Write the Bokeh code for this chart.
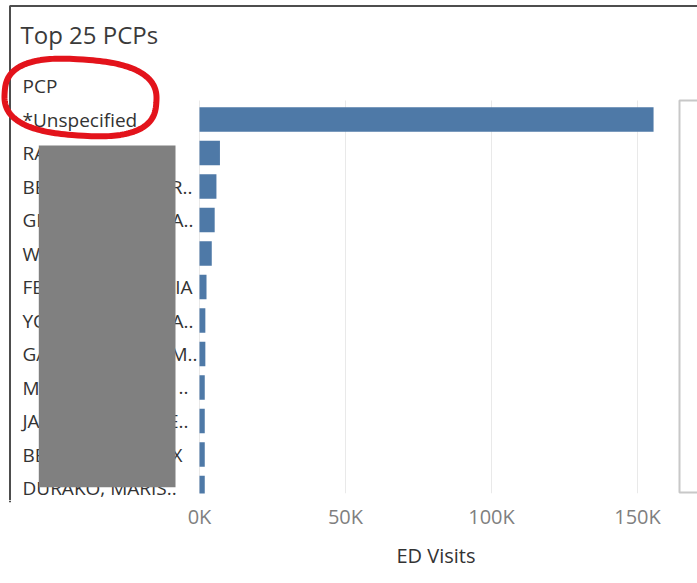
import numpy as np
from bokeh.plotting import figure
from bokeh.layouts import column, row
from bokeh.models import Range1d, FixedTicker
from bokeh.core.properties import value
from bokeh.embed import file_html
from bokeh.resources import INLINE

# ---- chart content ----
title_text = "Top 25 PCPs"
row_header = "PCP"
axis_title = "ED Visits"

# visible start of each PCP name (middle of the names is redacted)
pcp_head = ["*Unspecified", "RA", "BE", "GI", "W", "FE", "YO", "GA", "M", "JA", "BE",
            "DURAKO, MARIS.."]
# visible end of each PCP name, right of the redaction box
pcp_tail = ["", "", "R..", "A..", "", "IA", "A..", "M..", "..", "E..", "X", ""]

ed_visits = [155500, 7000, 5800, 5200, 4200, 2400, 2000, 2000, 1800, 1800, 1800, 1800]

tick_values = [0, 50000, 100000, 150000]
tick_labels = ["0K", "50K", "100K", "150K"]

# ---- layout (pixels) ----
W = 697
TOP_H = 500          # canvas height of the upper part
PANE_BOTTOM = 493    # bars are cut off at the bottom of the scrolling pane
BOTTOM_H = 83
ZERO_PX = 199
PX_PER_VISIT = 146 / 50000
ROW0_PX = 119
ROW_PX = 33.5
PANE_TOP = 100
AXIS_LEFT = 174
LABEL_X = 22
tail_end_px = [0, 0, 192, 193, 0, 192, 193, 197, 188, 188, 182, 0]

FONT = value("Open Sans")
BAR = "#4e79a7"
INK = "#333333"
FRAME_INK = "#4d4d4d"

x_start = -ZERO_PX / PX_PER_VISIT
x_end = (W - ZERO_PX) / PX_PER_VISIT
rows = list(range(len(pcp_head)))


def bare(fig):
    fig.outline_line_color = None
    fig.background_fill_color = "white"
    fig.border_fill_color = "white"
    fig.grid.visible = False


# ---- main pane: labels and bars ----
top = figure(width=W, height=TOP_H, output_backend="svg", toolbar_location=None,
             x_axis_location=None, y_axis_location=None, min_border=0,
             x_range=Range1d(x_start, x_end),
             y_range=Range1d((TOP_H - ROW0_PX) / ROW_PX, -ROW0_PX / ROW_PX))
bare(top)
top.extra_x_ranges = {"px": Range1d(0, W)}
top.extra_y_ranges = {"px": Range1d(TOP_H, 0)}

# vertical gridlines
top.segment(x0=tick_values, y0=PANE_TOP, x1=tick_values, y1=PANE_BOTTOM, y_range_name="px",
            line_color="#e9e9e9", line_width=1)

# bars
top.hbar(y=rows, left=0, right=ed_visits, height=0.725, fill_color=BAR, line_color=None)

# bottom edge of the scrolling pane hides the rest of the last bar
top.quad(left=190, right=W, top=PANE_BOTTOM, bottom=TOP_H, x_range_name="px",
         y_range_name="px", fill_color="white", line_color=None)

# worksheet border
top.line(x=[9.5, 9.5, W], y=[TOP_H, 5.5, 5.5], x_range_name="px", y_range_name="px",
         line_color=FRAME_INK, line_width=2)

# title
top.text(x=[20], y=[34], text=[title_text], x_range_name="px", y_range_name="px",
         text_font=FONT, text_font_size="24px", text_color="#3a3a3a",
         text_baseline="middle", text_align="left")

# row header and row labels
top.text(x=[LABEL_X], y=[-1], text=[row_header], x_range_name="px",
         text_font=FONT, text_font_size="19px", text_color=INK,
         text_baseline="middle", text_align="left")
top.text(x=LABEL_X, y=rows, text=pcp_head, x_range_name="px",
         text_font=FONT, text_font_size="19px", text_color=INK,
         text_baseline="middle", text_align="left")
t_rows = [r for r in rows if pcp_tail[r]]
top.text(x=[tail_end_px[r] for r in t_rows], y=t_rows, text=[pcp_tail[r] for r in t_rows],
         x_range_name="px", text_font=FONT, text_font_size="19px", text_color=INK,
         text_baseline="middle", text_align="right")

# redaction box over the names
top.quad(left=38.3, right=175, top=145, bottom=486.7, x_range_name="px", y_range_name="px",
         fill_color="#808080", line_color=None)

# hand-drawn red loop around the header (squarish, slightly tilted)
t = np.linspace(0, 2 * np.pi, 181)
n = 2.6
ux = np.sign(np.cos(t)) * np.abs(np.cos(t)) ** (2 / n) * 76
uy = np.sign(np.sin(t)) * np.abs(np.sin(t)) ** (2 / n) * 38
tilt = np.radians(4)
loop_x = 80 + ux * np.cos(tilt) - uy * np.sin(tilt)
loop_y = 97 + ux * np.sin(tilt) + uy * np.cos(tilt)
top.line(x=loop_x, y=loop_y, x_range_name="px", y_range_name="px",
         line_color="#e3131b", line_width=6, line_join="round")

# empty legend card at the right edge
top.quad(left=679, right=W + 20, top=100, bottom=492, x_range_name="px", y_range_name="px",
         fill_color=None, line_color="#c8c8c8", line_width=2)

# ---- bottom strip carrying the border down ----
strip = figure(width=AXIS_LEFT, height=BOTTOM_H, output_backend="svg", toolbar_location=None,
               x_axis_location=None, y_axis_location=None, min_border=0,
               x_range=Range1d(0, AXIS_LEFT), y_range=Range1d(BOTTOM_H, 0))
bare(strip)
strip.line(x=[9.5, 9.5], y=[0, BOTTOM_H], line_color=FRAME_INK, line_width=2)

# ---- x axis ----
ax = figure(width=W - AXIS_LEFT, height=BOTTOM_H, output_backend="svg", toolbar_location=None,
            x_axis_location="below", y_axis_location=None, min_border=0, min_border_bottom=81,
            x_range=Range1d((AXIS_LEFT - ZERO_PX) / PX_PER_VISIT, x_end),
            y_range=Range1d(0, 1))
bare(ax)
xa = ax.xaxis[0]
xa.ticker = FixedTicker(ticks=tick_values)
xa.major_label_overrides = dict(zip(tick_values, tick_labels))
xa.axis_line_color = None
xa.major_tick_line_color = None
xa.minor_tick_line_color = None
xa.major_tick_out = 0
xa.major_label_standoff = 0
xa.major_label_text_font = "Open Sans"
xa.major_label_text_font_size = "20px"
xa.major_label_text_color = "#7f7f7f"
xa.axis_label = axis_title
xa.axis_label_standoff = 9
xa.axis_label_text_font = "Open Sans"
xa.axis_label_text_font_size = "20px"
xa.axis_label_text_font_style = "normal"
xa.axis_label_text_color = INK

layout = column(top, row(strip, ax))

open("out.html", "w").write(file_html(layout, INLINE))
